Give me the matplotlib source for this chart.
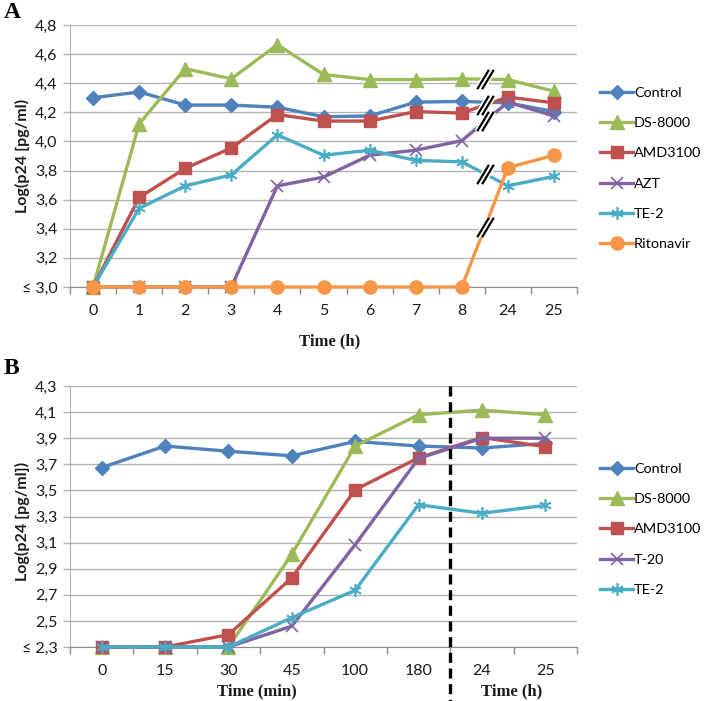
import numpy as np
import matplotlib
matplotlib.use('Agg')
import matplotlib.pyplot as plt
from matplotlib.path import Path
from matplotlib.lines import Line2D

plt.rcParams['font.family'] = ['Lato', 'DejaVu Sans']

# ---- panel A data ----
cats_a = ['0', '1', '2', '3', '4', '5', '6', '7', '8', '24', '25']
control_a = [4.30, 4.34, 4.25, 4.25, 4.235, 4.17, 4.175, 4.27, 4.275, 4.265, 4.205]
ds8000_a = [3.0, 4.12, 4.50, 4.43, 4.665, 4.46, 4.425, 4.425, 4.43, 4.425, 4.345]
amd3100_a = [3.0, 3.615, 3.815, 3.955, 4.185, 4.14, 4.14, 4.205, 4.195, 4.305, 4.265]
azt_a = [3.0, 3.0, 3.0, 3.0, 3.695, 3.755, 3.905, 3.94, 4.005, 4.27, 4.175]
te2_a = [3.0, 3.54, 3.695, 3.77, 4.045, 3.905, 3.94, 3.87, 3.86, 3.695, 3.76]
ritonavir_a = [3.0, 3.0, 3.0, 3.0, 3.0, 3.0, 3.0, 3.0, 3.0, 3.82, 3.905]
yticks_a = [3.0, 3.2, 3.4, 3.6, 3.8, 4.0, 4.2, 4.4, 4.6, 4.8]
ylabels_a = ['≤ 3,0', '3,2', '3,4', '3,6', '3,8', '4,0', '4,2', '4,4', '4,6', '4,8']

# ---- panel B data ----
cats_b = ['0', '15', '30', '45', '100', '180', '24', '25']
control_b = [3.675, 3.84, 3.80, 3.765, 3.875, 3.84, 3.825, 3.86]
ds8000_b = [2.3, 2.3, 2.3, 3.01, 3.84, 4.08, 4.115, 4.08]
amd3100_b = [2.3, 2.3, 2.395, 2.83, 3.505, 3.75, 3.905, 3.835]
t20_b = [2.3, 2.3, 2.3, 2.46, 3.085, 3.745, 3.90, 3.90]
te2_b = [2.3, 2.3, 2.3, 2.525, 2.735, 3.39, 3.325, 3.385]
yticks_b = [2.3, 2.5, 2.7, 2.9, 3.1, 3.3, 3.5, 3.7, 3.9, 4.1, 4.3]
ylabels_b = ['≤ 2,3', '2,5', '2,7', '2,9', '3,1', '3,3', '3,5', '3,7', '3,9', '4,1', '4,3']

# excel 2010 colours / markers
styles = {
    'Control': dict(color='#4F81BD', marker='D', ms=7.5),
    'DS-8000': dict(color='#9BBB59', marker='^', ms=9.5),
    'AMD3100': dict(color='#C0504D', marker='s', ms=9),
    'AZT': dict(color='#8064A2', marker='x', ms=8, mew=1.2),
    'T-20': dict(color='#8064A2', marker='x', ms=8, mew=1.2),
    'TE-2': dict(color='#4BACC6', marker=(6, 2, 0), ms=9, mew=1.2),
    'Ritonavir': dict(color='#F79646', marker='o', ms=9.5),
}

series_a = [('Control', control_a), ('DS-8000', ds8000_a), ('AMD3100', amd3100_a),
            ('AZT', azt_a), ('TE-2', te2_a), ('Ritonavir', ritonavir_a)]
series_b = [('Control', control_b), ('DS-8000', ds8000_b), ('AMD3100', amd3100_b),
            ('T-20', t20_b), ('TE-2', te2_b)]
break_series = ['DS-8000', 'AMD3100', 'AZT', 'TE-2', 'Ritonavir']

GRID = '#b3b3b3'
SPINE = '#8c8c8c'
TXT = '#1a1a1a'


def style_axes(ax, cats, yticks, ylabels):
    n = len(cats)
    ax.set_xlim(-0.5, n - 0.5)
    ax.set_ylim(yticks[0], yticks[-1])
    ax.set_xticks(range(n))
    ax.set_xticklabels(cats, fontsize=11.5, color=TXT)
    ax.set_xticks(np.arange(-0.5, n, 1.0), minor=True)
    ax.tick_params(axis='x', which='major', length=0, pad=12.5)
    ax.tick_params(axis='x', which='minor', length=5, color=SPINE, width=1)
    ax.set_yticks(yticks)
    ax.set_yticklabels(ylabels, fontsize=11.5, color=TXT)
    ax.tick_params(axis='y', length=5, color=GRID, width=1, pad=4)
    ax.grid(axis='y', color=GRID, lw=1)
    ax.set_axisbelow(True)
    for s in ['top', 'right']:
        ax.spines[s].set_visible(False)
    ax.spines['left'].set_color(GRID)
    ax.spines['bottom'].set_color(SPINE)


def draw_series(ax, series):
    for name, vals in series:
        st = dict(styles[name])
        ax.plot(range(len(vals)), vals, color=st.pop('color'), lw=2.4,
                marker=st.pop('marker'), markersize=st.pop('ms'),
                mew=st.pop('mew', 1.0), label=name, clip_on=False, zorder=3)


def legend(fig, ax, x, y):
    h, l = ax.get_legend_handles_labels()
    fig.legend(h, l, loc='upper left', bbox_to_anchor=(x, y), frameon=False,
               fontsize=10.4, handlelength=2.3, handletextpad=0.05,
               labelspacing=1.25, borderpad=0, borderaxespad=0)


fig = plt.figure(figsize=(7.05, 7.01), dpi=100)

# ---------------- A ----------------
axA = fig.add_axes([70 / 705, 1 - 287 / 701, 507 / 705, 262 / 701])
style_axes(axA, cats_a, yticks_a, ylabels_a)
draw_series(axA, series_a)

# axis-break marks between 8 and 24
slash = Path([(-0.85, -1), (0.35, 1), (-0.35, -1), (0.85, 1)],
             [Path.MOVETO, Path.LINETO, Path.MOVETO, Path.LINETO])
for name, vals in series_a:
    if name in break_series:
        ym = (vals[8] + vals[9]) / 2
        axA.plot([8.5], [ym], marker=slash, ms=14, mec='white', mew=4,
                 ls='none', zorder=4)
        axA.plot([8.5], [ym], marker=slash, ms=14, mec='black', mew=1.6,
                 ls='none', zorder=5)

legend(fig, axA, 600 / 705, 1 - 87 / 701)
fig.text(22 / 705, 1 - 156 / 701, 'Log(p24 [pg/ml)', rotation=90, ha='center',
         va='center', fontsize=11.5, fontweight='bold', color=TXT)
fig.text(330 / 705, 1 - 341 / 701, 'Time (h)', ha='center', va='center',
         fontsize=12, fontweight='bold', family='Liberation Serif', color=TXT)
fig.text(4 / 705, 1 - 13 / 701, 'A', ha='left', va='center', fontsize=17,
         fontweight='bold', family='Liberation Serif')

# ---------------- B ----------------
axB = fig.add_axes([70 / 705, 1 - 647 / 701, 507 / 705, 261 / 701])
style_axes(axB, cats_b, yticks_b, ylabels_b)
draw_series(axB, series_b)

# dashed separator between minutes and hours
sep = Line2D([5.5, 5.5], [1.0, -0.21], transform=axB.get_xaxis_transform(),
             color='black', lw=2.4, dashes=(3, 1.7), clip_on=False, zorder=6)
axB.add_line(sep)

legend(fig, axB, 600 / 705, 1 - 463 / 701)
fig.text(22 / 705, 1 - 521 / 701, 'Log(p24 [pg/ml])', rotation=90, ha='center',
         va='center', fontsize=11.5, fontweight='bold', color=TXT)
fig.text(257 / 705, 1 - 691 / 701, 'Time (min)', ha='center', va='center',
         fontsize=12, fontweight='bold', family='Liberation Serif', color=TXT)
fig.text(512 / 705, 1 - 691 / 701, 'Time (h)', ha='center', va='center',
         fontsize=12, fontweight='bold', family='Liberation Serif', color=TXT)
fig.text(4 / 705, 1 - 368 / 701, 'B', ha='left', va='center', fontsize=17,
         fontweight='bold', family='Liberation Serif')

fig.savefig('out.png', dpi=100)
